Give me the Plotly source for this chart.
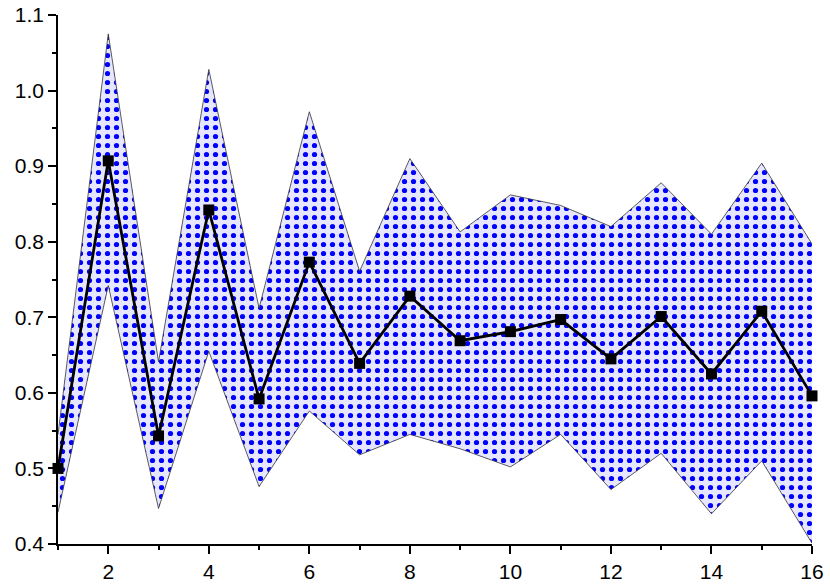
import plotly.graph_objects as go

x_vals = list(range(1, 17))
mean_vals = [0.500, 0.907, 0.543, 0.842, 0.592, 0.773, 0.639, 0.728,
             0.669, 0.681, 0.697, 0.645, 0.701, 0.625, 0.708, 0.596]
upper_vals = [0.545, 1.075, 0.641, 1.028, 0.712, 0.972, 0.761, 0.910,
              0.813, 0.862, 0.848, 0.820, 0.878, 0.810, 0.904, 0.797]
lower_vals = [0.442, 0.742, 0.447, 0.655, 0.476, 0.576, 0.518, 0.545,
              0.526, 0.502, 0.545, 0.472, 0.520, 0.440, 0.510, 0.401]

x_tickvals = [2, 4, 6, 8, 10, 12, 14, 16]
y_tickvals = [0.4, 0.5, 0.6, 0.7, 0.8, 0.9, 1.0, 1.1]
y_ticktext = ["0.4", "0.5", "0.6", "0.7", "0.8", "0.9", "1.0", "1.1"]

fig = go.Figure()

fig.add_trace(go.Scatter(
    x=x_vals, y=lower_vals, mode="lines",
    line=dict(color="#333333", width=0.8),
    showlegend=False, hoverinfo="skip",
))
fig.add_trace(go.Scatter(
    x=x_vals, y=upper_vals, mode="lines",
    line=dict(color="#333333", width=0.8),
    fill="tonexty",
    fillcolor="#e6e6ff",
    fillpattern=dict(shape=".", size=9, solidity=0.26,
                     fgcolor="#0000ff", bgcolor="#e6e6ff", fillmode="replace"),
    showlegend=False, hoverinfo="skip",
))
fig.add_trace(go.Scatter(
    x=x_vals, y=mean_vals, mode="lines+markers",
    line=dict(color="black", width=2.8),
    marker=dict(symbol="square", size=11, color="black"),
    cliponaxis=False,
    showlegend=False,
))

font = dict(family="Liberation Sans, Arial, sans-serif", size=21, color="black")

fig.update_layout(
    width=830, height=587,
    margin=dict(l=58, r=18, t=15, b=43),
    paper_bgcolor="white", plot_bgcolor="white",
    font=font,
    xaxis=dict(
        range=[1, 16], showgrid=False, zeroline=False, automargin=False,
        showline=True, linecolor="black", linewidth=1.5,
        tickmode="array", tickvals=x_tickvals, ticklabeloverflow="allow",
        ticks="outside", ticklen=8, tickwidth=1.5, tickcolor="black",
        minor=dict(dtick=1, tick0=1, ticks="outside", ticklen=4,
                   tickwidth=1.5, tickcolor="black", showgrid=False),
        tickfont=font,
    ),
    yaxis=dict(
        range=[0.4, 1.1], showgrid=False, zeroline=False, automargin=False,
        showline=True, linecolor="black", linewidth=1.5,
        tickmode="array", tickvals=y_tickvals, ticktext=y_ticktext,
        ticklabeloverflow="allow",
        ticks="outside", ticklen=8, tickwidth=1.5, tickcolor="black",
        minor=dict(dtick=0.05, tick0=0.4, ticks="outside", ticklen=4,
                   tickwidth=1.5, tickcolor="black", showgrid=False),
        tickfont=font,
    ),
)

fig.write_html(
    "out.html",
    config={"displayModeBar": False},
    post_script="document.body.style.margin='0';document.body.style.overflow='hidden';",
)
